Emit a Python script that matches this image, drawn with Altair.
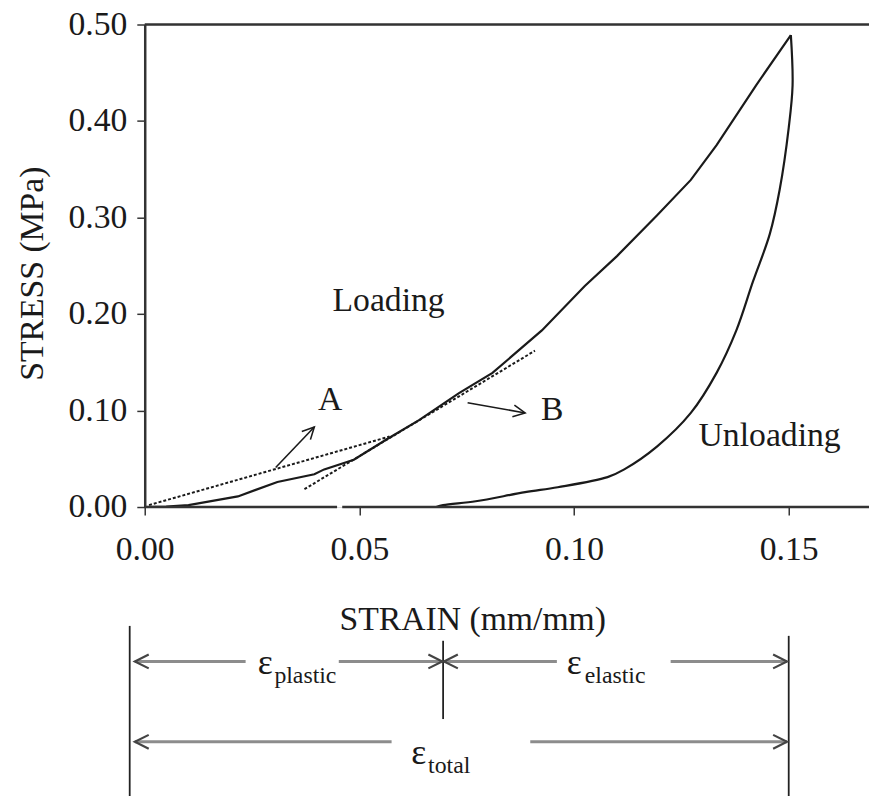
import altair as alt
import pandas as pd

# ---------------- data ----------------
load_x = [0.0, 0.005, 0.0102, 0.0217, 0.0309, 0.0395, 0.0418, 0.0487, 0.0563, 0.0639,
          0.0732, 0.081, 0.0925, 0.1025, 0.110, 0.1193, 0.1272, 0.1332, 0.1424, 0.1505]
load_y = [0.0, 0.0005, 0.002, 0.011, 0.026, 0.034, 0.039, 0.049, 0.070, 0.090,
          0.118, 0.139, 0.183, 0.229, 0.260, 0.302, 0.339, 0.375, 0.437, 0.489]

unload_x = [0.1505, 0.1509, 0.150, 0.1479, 0.1456, 0.1417, 0.1378, 0.1332, 0.1272, 0.1193,
            0.1117, 0.1078, 0.0962, 0.0886, 0.0771, 0.0695, 0.0679]
unload_y = [0.489, 0.437, 0.393, 0.329, 0.283, 0.234, 0.183, 0.139, 0.0975, 0.0626,
            0.039, 0.031, 0.0205, 0.0154, 0.006, 0.002, 0.0]

tangentA_x = [0.001, 0.057]
tangentA_y = [0.002, 0.073]
tangentB_x = [0.0372, 0.0909]
tangentB_y = [0.0185, 0.162]

arrowA_x = [0.0305, 0.0395]
arrowA_y = [0.041, 0.083]
arrowB_x = [0.0752, 0.0886]
arrowB_y = [0.108, 0.0975]

x_ticks = [0.0, 0.05, 0.10, 0.15]
y_ticks = [0.0, 0.1, 0.2, 0.3, 0.4, 0.5]
X_MAX = 0.1687
Y_MAX = 0.5

# x-axis baseline (drawn with a small break as in the figure)
base_x = [0.0, 0.046]
base_x2 = [0.0448, X_MAX]

# labels inside the plot
label_text = ["Loading", "A", "B"]
label_x = [0.0568, 0.0432, 0.0949]
label_y = [0.203, 0.1006, 0.090]
unload_label_x = [0.129]
unload_label_y = [0.0637]

# strain dimension diagram below the axis
strain_title_x = [0.0764]
strain_title_y = [-0.1273]
dim_seg_x = [-0.0023, 0.0452, 0.0695, 0.1225, -0.0023, 0.0898]
dim_seg_x2 = [0.0235, 0.0695, 0.096, 0.1496, 0.0575, 0.1496]
dim_seg_y = [-0.160, -0.160, -0.160, -0.160, -0.2433, -0.2433]
vline_x = [-0.0035, 0.0695, 0.150]
vline_y = [-0.1232, -0.1386, -0.1335]
vline_y2 = [-0.32, -0.2197, -0.32]
head_left_x = [-0.0023, 0.0697, -0.0023]
head_left_y = [-0.160, -0.160, -0.2433]
head_right_x = [0.0693, 0.1496, 0.1496]
head_right_y = [-0.160, -0.160, -0.2433]
eps_x = [0.0263, 0.0983, 0.0621]
eps_y = [-0.1735, -0.1735, -0.2659]
sub_text = ["plastic", "elastic", "total"]
sub_x = [0.0302, 0.1025, 0.066]
sub_y = [-0.1828, -0.1828, -0.2752]

# ---------------- chart ----------------
FONT = "Liberation Serif, Times New Roman, serif"
INK = "#1a1a1a"
xscale = alt.Scale(domain=[0, X_MAX], nice=False, zero=False)
yscale = alt.Scale(domain=[0, Y_MAX], nice=False, zero=False)

x_axis = alt.Axis(values=x_ticks, format=".2f", domain=False, grid=False,
                  tickSize=8, tickColor="#333", tickWidth=1.5,
                  labelFont=FONT, labelFontSize=34, labelColor=INK,
                  labelPadding=45, labelBaseline="alphabetic", labelFlush=False,
                  title=None)
y_axis = alt.Axis(values=y_ticks, format=".2f", grid=False,
                  domainColor="#333", domainWidth=2.5,
                  tickSize=8, tickColor="#333", tickWidth=1.5,
                  labelFont=FONT, labelFontSize=34, labelColor=INK,
                  labelPadding=10, labelFlush=False,
                  title="STRESS (MPa)", titleFont=FONT, titleFontSize=34,
                  titleFontWeight="normal", titleColor=INK,
                  titleAngle=270, titleAlign="center", titleBaseline="middle",
                  titleX=-113, titleY=251)


def X(field="x"):
    return alt.X(f"{field}:Q", scale=xscale, axis=x_axis)


def Y(field="y"):
    return alt.Y(f"{field}:Q", scale=yscale, axis=y_axis)


load_df = pd.DataFrame({"x": load_x, "y": load_y, "i": range(len(load_x))})
unload_df = pd.DataFrame({"x": unload_x, "y": unload_y, "i": range(len(unload_x))})

loading = alt.Chart(load_df).mark_line(color=INK, strokeWidth=2.2).encode(
    x=X(), y=Y(), order="i:Q")
unloading = alt.Chart(unload_df).mark_line(color=INK, strokeWidth=2.2,
                                           interpolate="catmull-rom").encode(
    x=X(), y=Y(), order="i:Q")

tan_df = pd.DataFrame({
    "x": tangentA_x + tangentB_x, "y": tangentA_y + tangentB_y,
    "g": ["A", "A", "B", "B"]})
tangents = alt.Chart(tan_df).mark_line(color=INK, strokeWidth=2, strokeDash=[3, 2]).encode(
    x=X(), y=Y(), detail="g:N")

arr_df = pd.DataFrame({
    "x": arrowA_x + arrowB_x, "y": arrowA_y + arrowB_y,
    "g": ["A", "A", "B", "B"]})
arrows = alt.Chart(arr_df).mark_line(color=INK, strokeWidth=1.6).encode(
    x=X(), y=Y(), detail="g:N")

RIGHT_HEAD = "M-2,-1L0,0L-2,1"
LEFT_HEAD = "M2,-1L0,0L2,1"
headA = alt.Chart(pd.DataFrame({"x": [arrowA_x[1]], "y": [arrowA_y[1]]})).mark_point(
    shape=RIGHT_HEAD, filled=False, color=INK, strokeWidth=1.6, size=144, opacity=1).encode(
    x=X(), y=Y(), angle=alt.value(313.6))
headB = alt.Chart(pd.DataFrame({"x": [arrowB_x[1]], "y": [arrowB_y[1]]})).mark_point(
    shape=RIGHT_HEAD, filled=False, color=INK, strokeWidth=1.6, size=144, opacity=1).encode(
    x=X(), y=Y(), angle=alt.value(9.8))

frame_df = pd.DataFrame({"x": base_x + [0.0], "x2": base_x2 + [X_MAX], "y": [0.0, 0.0, Y_MAX]})
frame = alt.Chart(frame_df).mark_rule(color="#333", strokeWidth=2.5).encode(
    x=X(), x2="x2:Q", y=Y())

lab_df = pd.DataFrame({"x": label_x, "y": label_y, "t": label_text})
labels = alt.Chart(lab_df).mark_text(font=FONT, fontSize=34, color=INK,
                                     align="center", baseline="alphabetic").encode(
    x=X(), y=Y(), text="t:N")
unl_df = pd.DataFrame({"x": unload_label_x, "y": unload_label_y, "t": ["Unloading"]})
unl_label = alt.Chart(unl_df).mark_text(font=FONT, fontSize=34, color=INK,
                                        align="left", baseline="alphabetic").encode(
    x=X(), y=Y(), text="t:N")

st_df = pd.DataFrame({"x": strain_title_x, "y": strain_title_y, "t": ["STRAIN (mm/mm)"]})
strain_title = alt.Chart(st_df).mark_text(font=FONT, fontSize=34, color=INK,
                                          align="center", baseline="alphabetic").encode(
    x=X(), y=Y(), text="t:N")

seg_df = pd.DataFrame({"x": dim_seg_x, "x2": dim_seg_x2, "y": dim_seg_y})
segs = alt.Chart(seg_df).mark_rule(color="#8c8c8c", strokeWidth=3).encode(
    x=X(), x2="x2:Q", y=Y())

vl_df = pd.DataFrame({"x": vline_x, "y": vline_y, "y2": vline_y2})
vlines = alt.Chart(vl_df).mark_rule(color="#222", strokeWidth=1.8).encode(
    x=X(), y=Y(), y2="y2:Q")

hl_df = pd.DataFrame({"x": head_left_x, "y": head_left_y})
heads_l = alt.Chart(hl_df).mark_point(shape=LEFT_HEAD, filled=False, color="#444",
                                      strokeWidth=2.2, size=196, opacity=1).encode(x=X(), y=Y())
hr_df = pd.DataFrame({"x": head_right_x, "y": head_right_y})
heads_r = alt.Chart(hr_df).mark_point(shape=RIGHT_HEAD, filled=False, color="#444",
                                      strokeWidth=2.2, size=196, opacity=1).encode(x=X(), y=Y())

eps_df = pd.DataFrame({"x": eps_x, "y": eps_y, "t": ["ε", "ε", "ε"]})
eps = alt.Chart(eps_df).mark_text(font=FONT, fontSize=36, color=INK,
                                  align="left", baseline="alphabetic").encode(
    x=X(), y=Y(), text="t:N")
sub_df = pd.DataFrame({"x": sub_x, "y": sub_y, "t": sub_text})
subs = alt.Chart(sub_df).mark_text(font=FONT, fontSize=24, color=INK,
                                   align="left", baseline="alphabetic").encode(
    x=X(), y=Y(), text="t:N")

chart = alt.layer(
    loading, unloading, tangents, arrows, headA, headB, frame,
    labels, unl_label, strain_title, segs, vlines, heads_l, heads_r, eps, subs
).properties(
    width=731, height=487,
    autosize=alt.AutoSizeParams(type="none"),
    padding={"left": 138, "top": 13, "right": 0, "bottom": 288},
).configure_view(stroke=None).configure(background="white")

chart.save("out.html", embed_options={"renderer": "svg", "actions": False})
